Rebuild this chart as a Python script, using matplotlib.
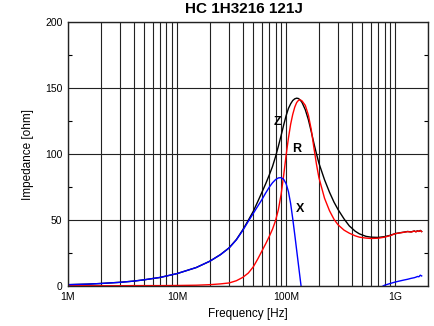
import numpy as np
import matplotlib
matplotlib.use("Agg")
import matplotlib.pyplot as plt
from matplotlib.ticker import LogLocator, FixedLocator, NullFormatter

plt.rcParams['font.family'] = ['Liberation Sans', 'DejaVu Sans']

# frequency points in MHz
freq_mhz = [1, 1.5, 2, 3, 4, 5, 7, 10,
            15, 20, 25, 30, 35, 40, 45, 50,
            55, 60, 65, 70, 75, 80, 85, 90,
            95, 100, 105, 110, 115, 120, 125, 130,
            135, 140, 150, 160, 170, 180, 190, 200,
            225, 250, 275, 300, 340, 380, 430, 470,
            540, 600, 700, 800, 900, 1000, 1100, 1200,
            1300, 1400, 1500, 1550, 1600, 1650, 1700, 1750]

z_ohm = [1.0, 1.4, 1.9, 2.8, 3.7, 4.7, 6.5, 9.4,
         14, 18.8, 23.8, 28.9, 35.2, 42.5, 49.8, 56.6,
         64, 71, 77.5, 84, 90.5, 98, 106, 114,
         122, 129, 134.5, 138, 140.5, 141.8, 142.3, 142,
         140.8, 139, 133.5, 126, 117, 108, 100, 93,
         80.5, 71, 63.5, 57.8, 50.8, 45.5, 41.5, 39.5,
         37.6, 37, 36.8, 37.4, 38.4, 39.7, 40.3, 40.8,
         41.3, 41.0, 41.7, 41.1, 41.9, 41.4, 42.1, 41.3]

r_ohm = [0.2, 0.2, 0.2, 0.2, 0.3, 0.3, 0.3, 0.4,
         0.6, 1.0, 1.6, 2.3, 4.0, 6.5, 9.8, 14.5,
         20.5, 26.5, 32, 37.5, 43, 49.5, 58, 69.5,
         84, 99, 112, 122.5, 130, 135.5, 139, 140.7,
         141, 140.2, 136.8, 129.5, 118.5, 104.5, 92, 82,
         66.5, 57, 50.5, 46.3, 42.3, 40, 38, 37,
         36.3, 36, 36.2, 37, 38.2, 39.6, 40.2, 40.7,
         41.2, 40.9, 41.6, 41.0, 41.8, 41.3, 42.0, 41.2]

x_ohm = [1.0, 1.4, 1.9, 2.8, 3.7, 4.7, 6.5, 9.4,
         14, 18.8, 23.7, 28.8, 35, 42, 49, 55,
         60.5, 65.5, 70.5, 74.8, 78.2, 80.6, 81.9, 82.1,
         80.8, 77.5, 71.5, 62.5, 51, 39, 27, 15.5,
         4.5, -6, -22, -32, -38, -42, -44, -45,
         -45, -43, -40, -37, -32, -27, -21, -17,
         -12, -8, -2, 0.6, 1.9, 3.0, 3.8, 4.5,
         5.1, 5.8, 6.3, 6.7, 7.2, 7.0, 8.2, 7.6]

x_ticks = [1e6, 1e7, 1e8, 1e9]
x_tick_labels = ['1M', '10M', '100M', '1G']
y_ticks = [0, 50, 100, 150, 200]

freq = np.array(freq_mhz) * 1e6

W, H = 434, 326
fig = plt.figure(figsize=(W / 100, H / 100), dpi=100)
ax = fig.add_axes([68 / W, (H - 286) / H, 360 / W, 264 / H])

ax.plot(freq, z_ohm, color='black', lw=1.0)
ax.plot(freq, r_ohm, color='red', lw=1.0)
ax.plot(freq, x_ohm, color='blue', lw=1.0)

ax.set_xscale('log')
ax.set_xlim(1e6, 2e9)
ax.set_ylim(0, 200)

ax.set_xticks(x_ticks)
ax.set_xticklabels(x_tick_labels)
ax.xaxis.set_minor_locator(LogLocator(base=10, subs=np.arange(2, 10)))
ax.xaxis.set_minor_formatter(NullFormatter())
ax.set_yticks(y_ticks)
ax.yaxis.set_minor_locator(FixedLocator([25, 75, 125, 175]))

ax.grid(True, which='both', axis='x', color='#222222', lw=0.8)
ax.grid(True, which='major', axis='y', color='#222222', lw=0.8)
ax.set_axisbelow(True)

ax.tick_params(axis='both', which='both', direction='in', top=True, right=True,
               labelsize=7.5, pad=4)
ax.tick_params(axis='y', which='minor', length=3, width=0.8)
ax.tick_params(axis='x', which='both', length=0)
ax.tick_params(axis='y', which='major', length=0)

for s in ax.spines.values():
    s.set_linewidth(1.0)
    s.set_color('#222222')

ax.set_xlabel('Frequency [Hz]', fontsize=8.5, labelpad=5)
ax.set_ylabel('Impedance [ohm]', fontsize=8.5, labelpad=8)

ax.text(83e6, 124.5, 'Z', fontsize=9, fontweight='bold', ha='center', va='center')
ax.text(126e6, 104, 'R', fontsize=9, fontweight='bold', ha='center', va='center')
ax.text(133e6, 58, 'X', fontsize=9, fontweight='bold', ha='center', va='center')

fig.text(243.5 / W, 1 - 2 / H, 'HC 1H3216 121J', fontsize=11, fontweight='bold',
         ha='center', va='top')

fig.savefig('out.png', dpi=100)
